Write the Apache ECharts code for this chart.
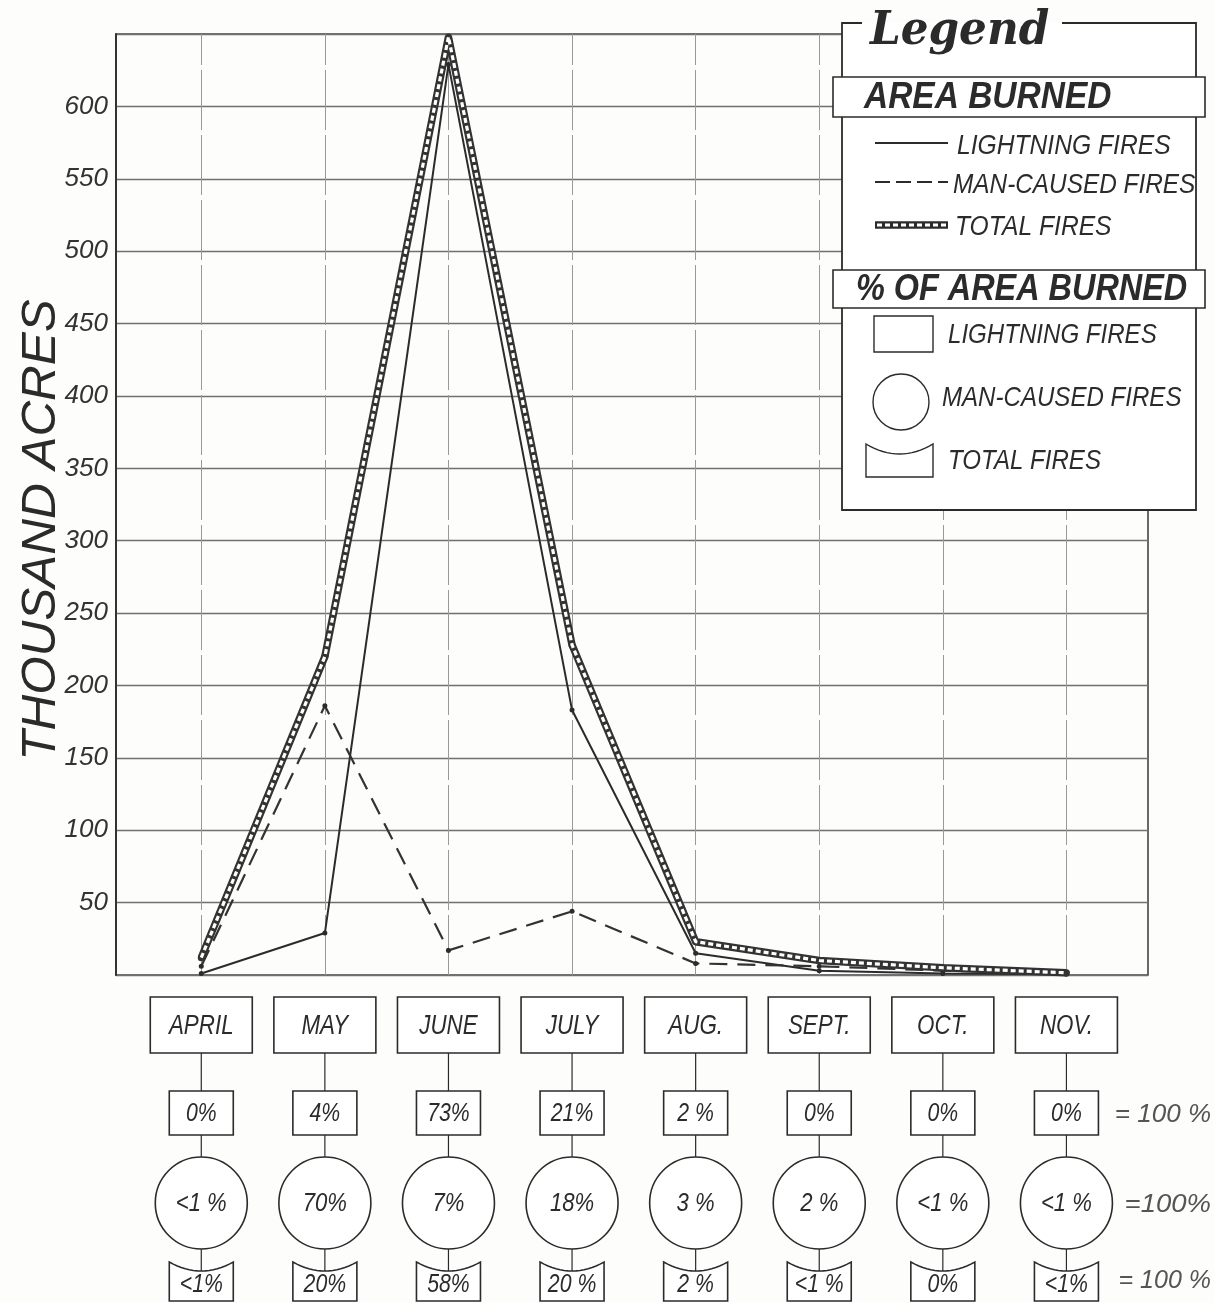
<!DOCTYPE html>
<html>
<head>
<meta charset="utf-8">
<script src="https://cdn.jsdelivr.net/npm/echarts@6/dist/echarts.min.js"></script>
<style>
  html, body { margin: 0; padding: 0; background: #fdfdfc; }
  #chart { width: 1214px; height: 1303px; }
</style>
</head>
<body>
<div id="chart"></div>
<script>
// Monthly area burned (thousand acres) by cause
const months = ['APRIL', 'MAY', 'JUNE', 'JULY', 'AUG.', 'SEPT.', 'OCT.', 'NOV.'];
const lightningAcres = [1, 29, 629, 183, 15, 3, 1, 0.5];
const manCausedAcres = [6, 186, 17, 44, 8, 6, 3, 1];
const totalAcres = [12, 220, 648, 228, 23, 10, 5, 1.5];
const yTicks = [50, 100, 150, 200, 250, 300, 350, 400, 450, 500, 550, 600];

// Share of each season's area burned, by month
const lightningPct = ['0%', '4%', '73%', '21%', '2 %', '0%', '0%', '0%'];
const manCausedPct = ['<1 %', '70%', '7%', '18%', '3 %', '2 %', '<1 %', '<1 %'];
const totalPct = ['<1%', '20%', '58%', '20 %', '2 %', '<1 %', '0%', '<1%'];
const sumLabels = ['= 100 %', '=100%', '= 100 %'];

const INK = '#2b2b2b';
const GRID = '#707070';
const SANS = "'Liberation Sans', 'DejaVu Sans', sans-serif";
const X_MIN = -0.69, X_MAX = 7.66;

const pairs = arr => arr.map((v, i) => [i, v]);

function label(x, y, text, o) {
  o = o || {};
  return {
    type: 'text', x: x, y: y, scaleX: o.sx || 1, rotation: o.rot || 0, z: o.z || 100,
    style: {
      text: text,
      fontFamily: o.family || SANS,
      fontStyle: o.style || 'italic',
      fontWeight: o.weight || 'normal',
      fontSize: o.size || 24,
      fill: o.fill || INK,
      align: o.align || 'left',
      verticalAlign: 'middle'
    }
  };
}

// Outline of the "total" tag: flat sides and bottom, top edge sagging in the middle
function scrollOutline(x0, x1, yTop, sag, yBottom) {
  const pts = [];
  const n = 16;
  for (let k = 0; k <= n; k++) {
    const t = k / n;
    pts.push([x0 + (x1 - x0) * t, yTop + 4 * sag * t * (1 - t)]);
  }
  pts.push([x1, yBottom], [x0, yBottom]);
  return pts;
}

const chart = echarts.init(document.getElementById('chart'), null, { renderer: 'canvas' });

// Lower panel: month name, then % lightning, % man-caused, % total per month
function renderPanel(params, api) {
  const i = params.dataIndex;
  const x = api.coord([api.value(0), 0])[0];
  const line = (y1, y2) => ({ type: 'line', shape: { x1: x, y1: y1, x2: x, y2: y2 }, style: { stroke: INK, lineWidth: 1.2 } });
  const box = { fill: '#fff', stroke: INK, lineWidth: 1.6 };
  const cy = 1203, r = 46, hw = 32;
  return {
    type: 'group',
    children: [
      line(1053, 1091), line(1135, cy - r), line(cy + r, 1271),
      { type: 'rect', shape: { x: x - 51, y: 997, width: 102, height: 56 }, style: box },
      label(x, 1026, months[i], { size: 28, sx: 0.8, align: 'center' }),
      { type: 'rect', shape: { x: x - hw, y: 1091, width: 2 * hw, height: 44 }, style: box },
      label(x, 1114, lightningPct[i], { size: 25, sx: 0.85, align: 'center' }),
      { type: 'circle', shape: { cx: x, cy: cy, r: r }, style: box },
      label(x, cy + 1, manCausedPct[i], { size: 26, sx: 0.85, align: 'center' }),
      { type: 'polygon', shape: { points: scrollOutline(x - hw, x + hw, 1262, 9, 1301) }, style: box },
      label(x, 1285, totalPct[i], { size: 25, sx: 0.85, align: 'center' })
    ]
  };
}

// Legend panel
const LX0 = 842, LX1 = 1196, LY0 = 23, LY1 = 510;
const legendEls = [
  { type: 'rect', shape: { x: LX0, y: LY0, width: LX1 - LX0, height: LY1 - LY0 }, style: { fill: '#fff', stroke: null }, z: 90 },
  { type: 'polyline', shape: { points: [[862, LY0], [LX0, LY0], [LX0, LY1], [LX1, LY1], [LX1, LY0], [1062, LY0]] }, style: { stroke: INK, lineWidth: 1.8, fill: null }, z: 95 },
  label(870, 32, 'Legend', { family: "'DejaVu Serif', serif", weight: 'bold', size: 46, sx: 0.95, z: 100 }),
  { type: 'rect', shape: { x: 833, y: 77, width: 372, height: 40 }, style: { fill: '#fff', stroke: INK, lineWidth: 1.6 }, z: 96 },
  label(864, 98, 'AREA BURNED', { weight: 'bold', size: 36, sx: 0.93 }),
  { type: 'line', shape: { x1: 875, y1: 143, x2: 948, y2: 143 }, style: { stroke: INK, lineWidth: 2 }, z: 100 },
  label(957, 146, 'LIGHTNING FIRES', { size: 28, sx: 0.88 }),
  { type: 'line', shape: { x1: 875, y1: 182, x2: 948, y2: 182 }, style: { stroke: INK, lineWidth: 2, lineDash: [15, 6] }, z: 100 },
  label(953, 185, 'MAN-CAUSED FIRES', { size: 28, sx: 0.87 }),
  { type: 'line', shape: { x1: 875, y1: 225, x2: 948, y2: 225 }, style: { stroke: INK, lineWidth: 7.5 }, z: 100 },
  { type: 'line', shape: { x1: 877, y1: 225, x2: 946, y2: 225 }, style: { stroke: '#fff', lineWidth: 3.2, lineDash: [5, 3] }, z: 101 },
  label(955, 227, 'TOTAL FIRES', { size: 28, sx: 0.88 }),
  { type: 'rect', shape: { x: 833, y: 270, width: 372, height: 38 }, style: { fill: '#fff', stroke: INK, lineWidth: 1.6 }, z: 96 },
  label(856, 290, '% OF AREA BURNED', { weight: 'bold', size: 36, sx: 0.9 }),
  { type: 'rect', shape: { x: 874, y: 316, width: 59, height: 36 }, style: { fill: '#fff', stroke: INK, lineWidth: 1.4 }, z: 100 },
  label(948, 335, 'LIGHTNING FIRES', { size: 28, sx: 0.86 }),
  { type: 'circle', shape: { cx: 901, cy: 402, r: 28 }, style: { fill: '#fff', stroke: INK, lineWidth: 1.4 }, z: 100 },
  label(942, 398, 'MAN-CAUSED FIRES', { size: 28, sx: 0.86 }),
  { type: 'polygon', shape: { points: scrollOutline(866, 933, 444, 10, 477) }, style: { fill: '#fff', stroke: INK, lineWidth: 1.4 }, z: 100 },
  label(948, 461, 'TOTAL FIRES', { size: 28, sx: 0.86 })
];

// Row totals to the right of the lower panel
const sumEls = [
  label(1211, 1115, sumLabels[0], { size: 25, sx: 1.04, align: 'right', fill: '#555' }),
  label(1211, 1205, sumLabels[1], { size: 25, sx: 1.1, align: 'right', fill: '#555' }),
  label(1211, 1281, sumLabels[2], { size: 25, sx: 1.0, align: 'right', fill: '#555' })
];

const option = {
  backgroundColor: '#fdfdfc',
  animation: false,
  grid: [
    { left: 116, right: 66, top: 34, bottom: 328, show: true, borderColor: '#444', borderWidth: 1.6, backgroundColor: 'transparent' },
    { left: 116, right: 66, top: 985, bottom: 0 }
  ],
  xAxis: [
    { type: 'value', gridIndex: 0, min: X_MIN, max: X_MAX, show: false, splitLine: { show: false } },
    { type: 'value', gridIndex: 1, min: X_MIN, max: X_MAX, show: false, splitLine: { show: false } }
  ],
  yAxis: [
    {
      type: 'value', gridIndex: 0, min: 0, max: 650, interval: 50,
      axisLine: { show: true, onZero: false, lineStyle: { color: '#333', width: 2 } },
      axisTick: { show: false },
      splitLine: { show: true, lineStyle: { color: GRID, width: 1.3 } },
      axisLabel: {
        margin: 8, color: '#333', fontSize: 26, fontStyle: 'italic', fontFamily: SANS,
        formatter: v => (yTicks.indexOf(v) >= 0 ? String(v) : '')
      }
    },
    { type: 'value', gridIndex: 1, min: 0, max: 1, show: false, splitLine: { show: false } }
  ],
  series: [
    {
      // vertical month rules
      type: 'line', data: [], z: 1, silent: true,
      markLine: {
        silent: true, symbol: 'none', label: { show: false },
        lineStyle: { color: '#999', width: 1, type: [60, 5] },
        data: months.map((m, i) => ({ xAxis: i }))
      }
    },
    {
      name: 'LIGHTNING FIRES', type: 'line', data: pairs(lightningAcres), z: 5,
      lineStyle: { color: INK, width: 2 }, itemStyle: { color: INK },
      symbol: 'circle', symbolSize: 5
    },
    {
      name: 'MAN-CAUSED FIRES', type: 'line', data: pairs(manCausedAcres), z: 5,
      lineStyle: { color: '#333', width: 2.2, type: [18, 10] }, itemStyle: { color: INK },
      symbol: 'circle', symbolSize: 5
    },
    {
      name: 'TOTAL FIRES', type: 'line', data: pairs(totalAcres), z: 6,
      lineStyle: { color: '#333', width: 7.5 }, itemStyle: { color: '#333' },
      symbol: 'circle', symbolSize: 7
    },
    {
      name: 'TOTAL FIRES inner', type: 'line', data: pairs(totalAcres), z: 7,
      lineStyle: { color: '#ffffff', width: 3.2, type: [5, 3] },
      symbol: 'none'
    },
    {
      type: 'custom', coordinateSystem: 'cartesian2d', xAxisIndex: 1, yAxisIndex: 1,
      data: months.map((m, i) => [i, 0]), renderItem: renderPanel, clip: false, silent: true
    }
  ],
  graphic: [
    label(42, 530, 'THOUSAND ACRES', { size: 48, rot: Math.PI / 2, align: 'center', sx: 1.03 })
  ].concat(legendEls, sumEls)
};

chart.setOption(option);
</script>
</body>
</html>
